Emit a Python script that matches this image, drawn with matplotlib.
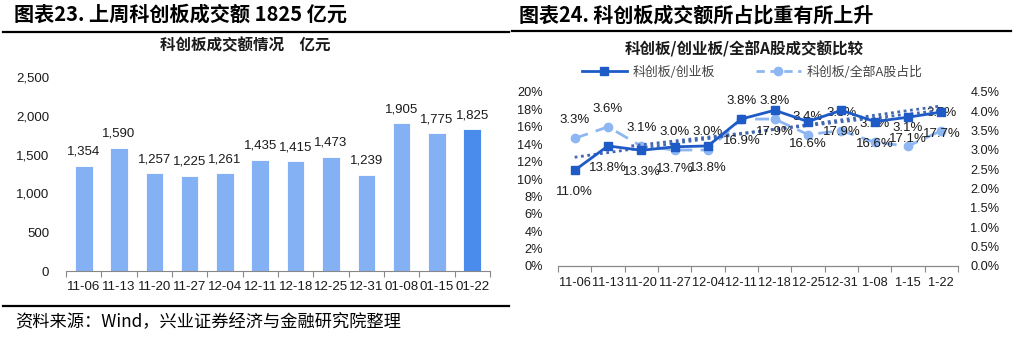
import matplotlib
matplotlib.use("Agg")
import matplotlib.pyplot as plt
from matplotlib.lines import Line2D
import numpy as np

plt.rcParams['font.family'] = ['Liberation Sans', 'Noto Sans CJK SC', 'DejaVu Sans']
CJK = ['Noto Sans CJK SC', 'DejaVu Sans']

# ---- data ----
bar_dates = ['11-06', '11-13', '11-20', '11-27', '12-04', '12-11',
             '12-18', '12-25', '12-31', '01-08', '01-15', '01-22']
turnover = [1354, 1590, 1257, 1225, 1261, 1435, 1415, 1473, 1239, 1905, 1775, 1825]

line_dates = ['11-06', '11-13', '11-20', '11-27', '12-04', '12-11',
              '12-18', '12-25', '12-31', '1-08', '1-15', '1-22']
star_vs_chinext = [11.0, 13.8, 13.3, 13.7, 13.8, 16.9, 17.9, 16.6, 17.9, 16.6, 17.1, 17.7]
star_vs_all_a = [3.3, 3.6, 3.1, 3.0, 3.0, 3.8, 3.8, 3.4, 3.5, 3.2, 3.1, 3.5]

# dotted trend lines (x index, left-axis %)
trend1_x = [0, 11]
trend1_y = [12.5, 18.4]
trend2_x = [1.7, 11]
trend2_y = [13.8, 17.9]

BAR = '#84B0F4'
BAR_LAST = '#4A8CEC'
SOLID = '#1E5BC6'
DASHED = '#8EB6F2'
DOTTED = '#4468B0'
TXT = '#1a1a1a'

W, H = 1018, 338
fig = plt.figure(figsize=(W / 100, H / 100), dpi=100)


def fx(px):
    return px / W


def fy(py):
    return 1 - py / H


def hrule(x0, x1, y, lw=1.6):
    fig.add_artist(Line2D([fx(x0), fx(x1)], [fy(y), fy(y)], transform=fig.transFigure,
                          color='black', lw=lw))


# ---- headings, rules, source ----
fig.text(fx(14), fy(14), '图表23. 上周科创板成交额 1825 亿元', family=CJK, fontsize=14.5,
         fontweight='bold', ha='left', va='center', color='black')
fig.text(fx(519), fy(15), '图表24. 科创板成交额所占比重有所上升', family=CJK, fontsize=14.4,
         fontweight='bold', ha='left', va='center', color='black')
hrule(3, 509, 32)
hrule(512, 1011, 31)
hrule(3, 509, 306)
fig.text(fx(15), fy(322), '资料来源：Wind，兴业证券经济与金融研究院整理', family=CJK, fontsize=12.4,
         ha='left', va='center', color='black')

fig.text(fx(245), fy(45), '科创板成交额情况　亿元', family=CJK, fontsize=11.2,
         fontweight='bold', ha='center', va='center', color=TXT)
fig.text(fx(744), fy(49), '科创板/创业板/全部A股成交额比较', family=CJK, fontsize=11.2,
         fontweight='bold', ha='center', va='center', color=TXT)

# ---- left: weekly turnover bars ----
ax1 = fig.add_axes([fx(66), fy(271), fx(490) - fx(66), fy(77) - fy(271)])
x = np.arange(len(bar_dates))
colors = [BAR] * (len(turnover) - 1) + [BAR_LAST]
ax1.bar(x, turnover, width=0.5, color=colors, edgecolor='white', linewidth=0.6)
for xi, v in zip(x, turnover):
    ax1.annotate(f'{v:,}', (xi, v), xytext=(0, 14), textcoords='offset pixels',
                 ha='center', va='center', fontsize=9.5, color=TXT)
ax1.set_xlim(-0.5, len(bar_dates) - 0.5)
ax1.set_ylim(0, 2500)
ax1.set_yticks(range(0, 2501, 500))
ax1.set_yticklabels([f'{v:,}' for v in range(0, 2501, 500)])
ax1.set_xticks(x)
ax1.set_xticklabels(bar_dates)
ax1.set_xticks(np.arange(-0.5, len(bar_dates)), minor=True)
ax1.tick_params(axis='x', which='major', length=0, pad=7, labelsize=9.6, colors=TXT)
ax1.tick_params(axis='x', which='minor', length=4, color='#888888', width=0.8)
ax1.tick_params(axis='y', length=0, pad=12, labelsize=9.5, colors=TXT)
for s in ['top', 'right', 'left']:
    ax1.spines[s].set_visible(False)
ax1.spines['bottom'].set_color('#888888')
ax1.spines['bottom'].set_linewidth(0.8)

# ---- right: ratio lines ----
ax2 = fig.add_axes([fx(558), fy(266), fx(958) - fx(558), fy(92) - fy(266)])
ax3 = ax2.twinx()
xl = np.arange(len(line_dates))

ax2.plot(trend1_x, trend1_y, linestyle=(0, (1, 1.3)), color=DOTTED, lw=2.0, zorder=2)
ax2.plot(trend2_x, trend2_y, linestyle=(0, (1, 1.3)), color=DOTTED, lw=2.0, zorder=2)
ax3.plot(xl, star_vs_all_a, linestyle=(0, (5, 3)), color=DASHED, lw=2.0, marker='o',
         markersize=6, zorder=3)
ax2.plot(xl, star_vs_chinext, linestyle='-', color=SOLID, lw=2.0, marker='s',
         markersize=6, zorder=4)
ax2.set_zorder(ax3.get_zorder() + 1)
ax2.patch.set_visible(False)

for xi, v in zip(xl, star_vs_chinext):
    ax2.annotate(f'{v:.1f}%', (xi, v), xytext=(0, -22), textcoords='offset pixels',
                 ha='center', va='center', fontsize=9.5, color=TXT)
for xi, v in zip(xl, star_vs_all_a):
    ax3.annotate(f'{v:.1f}%', (xi, v), xytext=(0, 18), textcoords='offset pixels',
                 ha='center', va='center', fontsize=9.5, color=TXT)

ax2.set_xlim(-0.5, len(line_dates) - 0.5)
ax2.set_ylim(0, 20)
ax3.set_ylim(0, 4.5)
ax2.set_yticks(range(0, 21, 2))
ax2.set_yticklabels([f'{v}%' for v in range(0, 21, 2)])
ax3.set_yticks(np.arange(0, 4.51, 0.5))
ax3.set_yticklabels([f'{v:.1f}%' for v in np.arange(0, 4.51, 0.5)])
ax2.set_xticks(xl)
ax2.set_xticklabels(line_dates)
ax2.set_xticks(np.arange(-0.5, len(line_dates)), minor=True)
ax2.tick_params(axis='x', which='major', length=0, pad=8, labelsize=9.2, colors=TXT)
ax2.tick_params(axis='x', which='minor', length=4, color='#888888', width=0.8)
ax2.tick_params(axis='y', length=0, pad=11, labelsize=9.2, colors=TXT)
ax3.tick_params(axis='y', length=0, pad=9, labelsize=9.2, colors=TXT)
for a in (ax2, ax3):
    for s in ['top', 'right', 'left']:
        a.spines[s].set_visible(False)
    a.spines['bottom'].set_color('#888888')
    a.spines['bottom'].set_linewidth(0.8)

handles = [
    Line2D([], [], color=SOLID, lw=2.0, marker='s', markersize=6),
    Line2D([], [], color=DASHED, lw=2.0, linestyle=(0, (3, 2)), marker='o', markersize=6),
]
fig.legend(handles, ['科创板/创业板', '科创板/全部A股占比'], loc='center',
           bbox_to_anchor=(fx(752), fy(72)), ncol=2, frameon=False,
           prop={'family': CJK, 'size': 9.3}, labelcolor='#444444',
           handlelength=3.5, handletextpad=0.4, columnspacing=3.2)

fig.savefig('out.png', dpi=100)
